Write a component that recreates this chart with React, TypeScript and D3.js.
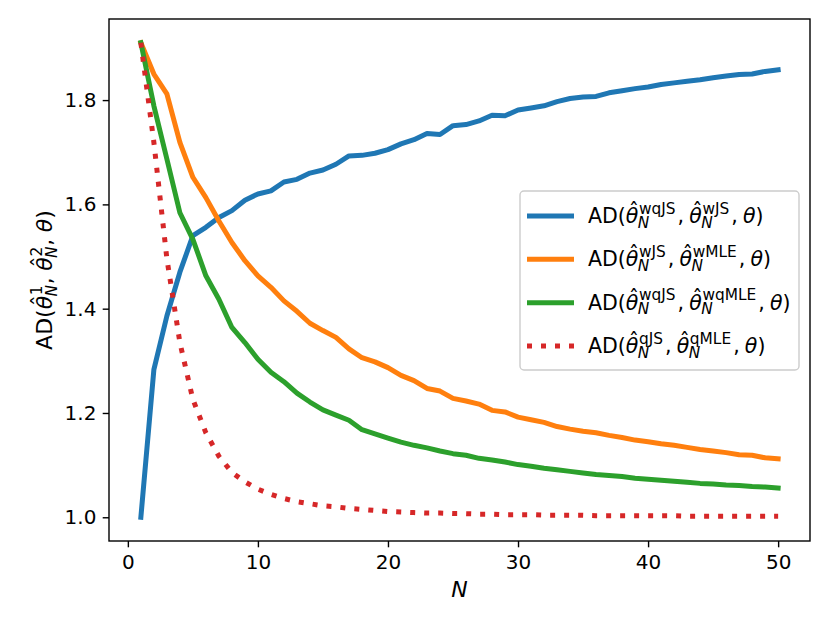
import * as d3 from "d3";
import { useEffect, useRef } from "react";

const N = d3.range(1, 51);

const wqJS_wJS = [
  1.0, 1.283, 1.386, 1.47, 1.54, 1.556, 1.575, 1.588, 1.608, 1.62,
  1.626, 1.643, 1.648, 1.66, 1.666, 1.677, 1.693, 1.694, 1.698, 1.705,
  1.716, 1.724, 1.736, 1.734, 1.751, 1.753, 1.76, 1.771, 1.77, 1.781,
  1.785, 1.789, 1.797, 1.803, 1.806, 1.807, 1.814, 1.818, 1.822, 1.825,
  1.83, 1.833, 1.836, 1.839, 1.843, 1.846, 1.849, 1.85, 1.855, 1.858,
];

const wJS_wMLE = [
  1.91, 1.85, 1.812, 1.719, 1.652, 1.613, 1.568, 1.527, 1.492, 1.463,
  1.441, 1.415, 1.395, 1.372, 1.358, 1.345, 1.323, 1.306, 1.298, 1.287,
  1.272, 1.262, 1.247, 1.242, 1.228, 1.223, 1.217, 1.205, 1.202, 1.192,
  1.187, 1.182, 1.174, 1.169, 1.165, 1.162, 1.157, 1.153, 1.148, 1.145,
  1.141, 1.138, 1.134, 1.13, 1.127, 1.124, 1.12, 1.119, 1.114, 1.112,
];

const wqJS_wqMLE = [
  1.91, 1.789, 1.687, 1.584, 1.533, 1.463, 1.418, 1.364, 1.335, 1.303,
  1.278, 1.26, 1.238, 1.221, 1.206, 1.196, 1.186, 1.168, 1.16, 1.152,
  1.144, 1.138, 1.133, 1.127, 1.122, 1.119, 1.113, 1.11, 1.106, 1.101,
  1.098, 1.094, 1.091, 1.088, 1.085, 1.082, 1.08, 1.078, 1.075, 1.073,
  1.071, 1.069, 1.067, 1.065, 1.064, 1.062, 1.061, 1.059, 1.058, 1.056,
];

const qJS_qMLE = [
  1.91, 1.719, 1.496, 1.335, 1.226, 1.162, 1.117, 1.086, 1.068, 1.054,
  1.044, 1.036, 1.03, 1.026, 1.022, 1.02, 1.017, 1.015, 1.013, 1.011,
  1.01, 1.009, 1.008, 1.008, 1.007, 1.007, 1.006, 1.006, 1.005, 1.005,
  1.005, 1.004, 1.004, 1.004, 1.004, 1.003, 1.003, 1.003, 1.003, 1.003,
  1.003, 1.003, 1.002, 1.002, 1.002, 1.002, 1.002, 1.002, 1.002, 1.002,
];

const xTicks = [0, 10, 20, 30, 40, 50];
const yTicks = [1.0, 1.2, 1.4, 1.6, 1.8];

const series = [
  { values: wqJS_wJS, color: "#1f77b4", dotted: false, sup: ["wqJS", "wJS"] },
  { values: wJS_wMLE, color: "#ff7f0e", dotted: false, sup: ["wJS", "wMLE"] },
  { values: wqJS_wqMLE, color: "#2ca02c", dotted: false, sup: ["wqJS", "wqMLE"] },
  { values: qJS_qMLE, color: "#d62728", dotted: true, sup: ["qJS", "qMLE"] },
];

const FONT = "DejaVu Sans, sans-serif";

type Piece =
  | { type: "rm"; text: string }
  | { type: "it"; text: string }
  | { type: "gap"; em: number }
  | { type: "hat"; sup: string; sub: string };

// draws a small mathtext-like string starting at (0, 0) baseline, returns width
function drawMath(
  g: d3.Selection<SVGGElement, unknown, null, undefined>,
  pieces: Piece[],
  fs: number,
  scriptScale = 0.7,
  scriptSpace = 0.03
) {
  let x = 0;
  const put = (text: string, px: number, py: number, size: number, italic: boolean) => {
    const t = g
      .append("text")
      .attr("x", px)
      .attr("y", py)
      .style("font-family", FONT)
      .style("font-size", `${size}px`)
      .style("font-style", italic ? "italic" : "normal")
      .style("fill", "#000")
      .text(text);
    return (t.node() as SVGTextElement).getComputedTextLength();
  };
  pieces.forEach((p) => {
    if (p.type === "rm") x += put(p.text, x, 0, fs, false);
    else if (p.type === "it") x += put(p.text, x, 0, fs, true);
    else if (p.type === "gap") x += p.em * fs;
    else {
      const w = put("θ", x, 0, fs, true);
      g.append("text")
        .attr("x", x + w * 0.64)
        .attr("y", -fs * 0.24)
        .attr("text-anchor", "middle")
        .style("font-family", FONT)
        .style("font-size", `${fs}px`)
        .text("ˆ");
      const sx = x + w + fs * 0.03;
      const supW = put(p.sup, sx, -fs * 0.45, fs * scriptScale, false);
      const subW = put(p.sub, sx - fs * 0.06, fs * 0.22, fs * scriptScale, true);
      x = sx + Math.max(supW, subW - fs * 0.06) + fs * scriptSpace;
    }
  });
  return x;
}

export default function App() {
  const svgRef = useRef<SVGSVGElement>(null);
  const width = 830;
  const height = 623;

  useEffect(() => {
    if (!svgRef.current) return;
    const svg = d3.select(svgRef.current);
    svg.selectAll("*").remove();

    const left = 109, right = 810, top = 19, bottom = 541;

    const allY = series.flatMap((s) => s.values);
    const [yMin, yMax] = d3.extent(allY) as [number, number];
    const yPad = (yMax - yMin) * 0.05;
    const xPad = (50 - 1) * 0.05;

    const x = d3.scaleLinear().domain([1 - xPad, 50 + xPad]).range([left, right]);
    const y = d3.scaleLinear().domain([yMin - yPad, yMax + yPad]).range([bottom, top]);

    svg.append("rect").attr("width", width).attr("height", height).attr("fill", "#fff");

    // lines
    series.forEach((s) => {
      const line = d3
        .line<number>()
        .x((_, i) => x(N[i]))
        .y((d) => y(d));
      svg
        .append("path")
        .datum(s.values)
        .attr("d", line)
        .style("fill", "none")
        .style("stroke", s.color)
        .style("stroke-width", 5)
        .style("stroke-linejoin", "round")
        .style("stroke-linecap", s.dotted ? "butt" : "square")
        .style("stroke-dasharray", s.dotted ? "5 9" : null);
    });

    // axes frame
    svg
      .append("rect")
      .attr("x", left)
      .attr("y", top)
      .attr("width", right - left)
      .attr("height", bottom - top)
      .style("fill", "none")
      .style("stroke", "#000")
      .style("stroke-width", 1.4);

    const xAxis = svg
      .append("g")
      .attr("transform", `translate(0,${bottom})`)
      .call(d3.axisBottom(x).tickValues(xTicks).tickSize(6.3).tickPadding(7.3).tickFormat(d3.format("d")));
    const yAxis = svg
      .append("g")
      .attr("transform", `translate(${left},0)`)
      .call(d3.axisLeft(y).tickValues(yTicks).tickSize(6.3).tickPadding(6.3).tickFormat(d3.format(".1f")));

    [xAxis, yAxis].forEach((a) => {
      a.select(".domain").remove();
      a.selectAll(".tick line").style("stroke", "#000").style("stroke-width", 1.4);
      a.selectAll(".tick text")
        .style("font-family", FONT)
        .style("font-size", "20px")
        .style("fill", "#000");
    });

    // x label
    svg
      .append("text")
      .attr("x", (left + right) / 2)
      .attr("y", 597)
      .attr("text-anchor", "middle")
      .style("font-family", FONT)
      .style("font-size", "22px")
      .style("font-style", "italic")
      .text("N");

    // y label
    const yl = svg.append("g");
    const ylInner = yl.append("g");
    const ylW = drawMath(
      ylInner,
      [
        { type: "rm", text: "AD(" },
        { type: "hat", sup: "1", sub: "N" },
        { type: "rm", text: "," },
        { type: "gap", em: 0.3 },
        { type: "hat", sup: "2", sub: "N" },
        { type: "rm", text: "," },
        { type: "gap", em: 0.3 },
        { type: "it", text: "θ" },
        { type: "rm", text: ")" },
      ],
      22
    );
    ylInner.attr("transform", `translate(${-ylW / 2},0)`);
    yl.attr("transform", `translate(52,${(top + bottom) / 2}) rotate(-90)`);

    // legend
    const legend = svg.append("g");
    legend
      .append("rect")
      .attr("x", 520)
      .attr("y", 191)
      .attr("width", 279)
      .attr("height", 179)
      .attr("rx", 4)
      .style("fill", "#fff")
      .style("fill-opacity", 0.8)
      .style("stroke", "#cccccc")
      .style("stroke-width", 1.4);

    const rowY = d3.scaleLinear().domain([0, 3]).range([216, 346]);
    series.forEach((s, i) => {
      const cy = rowY(i);
      legend
        .append("line")
        .attr("x1", 527)
        .attr("x2", 574)
        .attr("y1", cy)
        .attr("y2", cy)
        .style("stroke", s.color)
        .style("stroke-width", 5)
        .style("stroke-dasharray", s.dotted ? "5 9" : null);
      const tg = legend.append("g").attr("transform", `translate(588,${cy + 7})`);
      drawMath(
        tg,
        [
          { type: "rm", text: "AD(" },
          { type: "hat", sup: s.sup[0], sub: "N" },
          { type: "rm", text: "," },
          { type: "gap", em: 0.25 },
          { type: "hat", sup: s.sup[1], sub: "N" },
          { type: "rm", text: "," },
          { type: "gap", em: 0.25 },
          { type: "it", text: "θ" },
          { type: "rm", text: ")" },
        ],
        20.5,
        0.75,
        0.1
      );
    });
  }, []);

  return (
    <div style={{ position: "absolute", left: 0, top: 0 }}>
      <svg ref={svgRef} width={width} height={height} />
    </div>
  );
}
